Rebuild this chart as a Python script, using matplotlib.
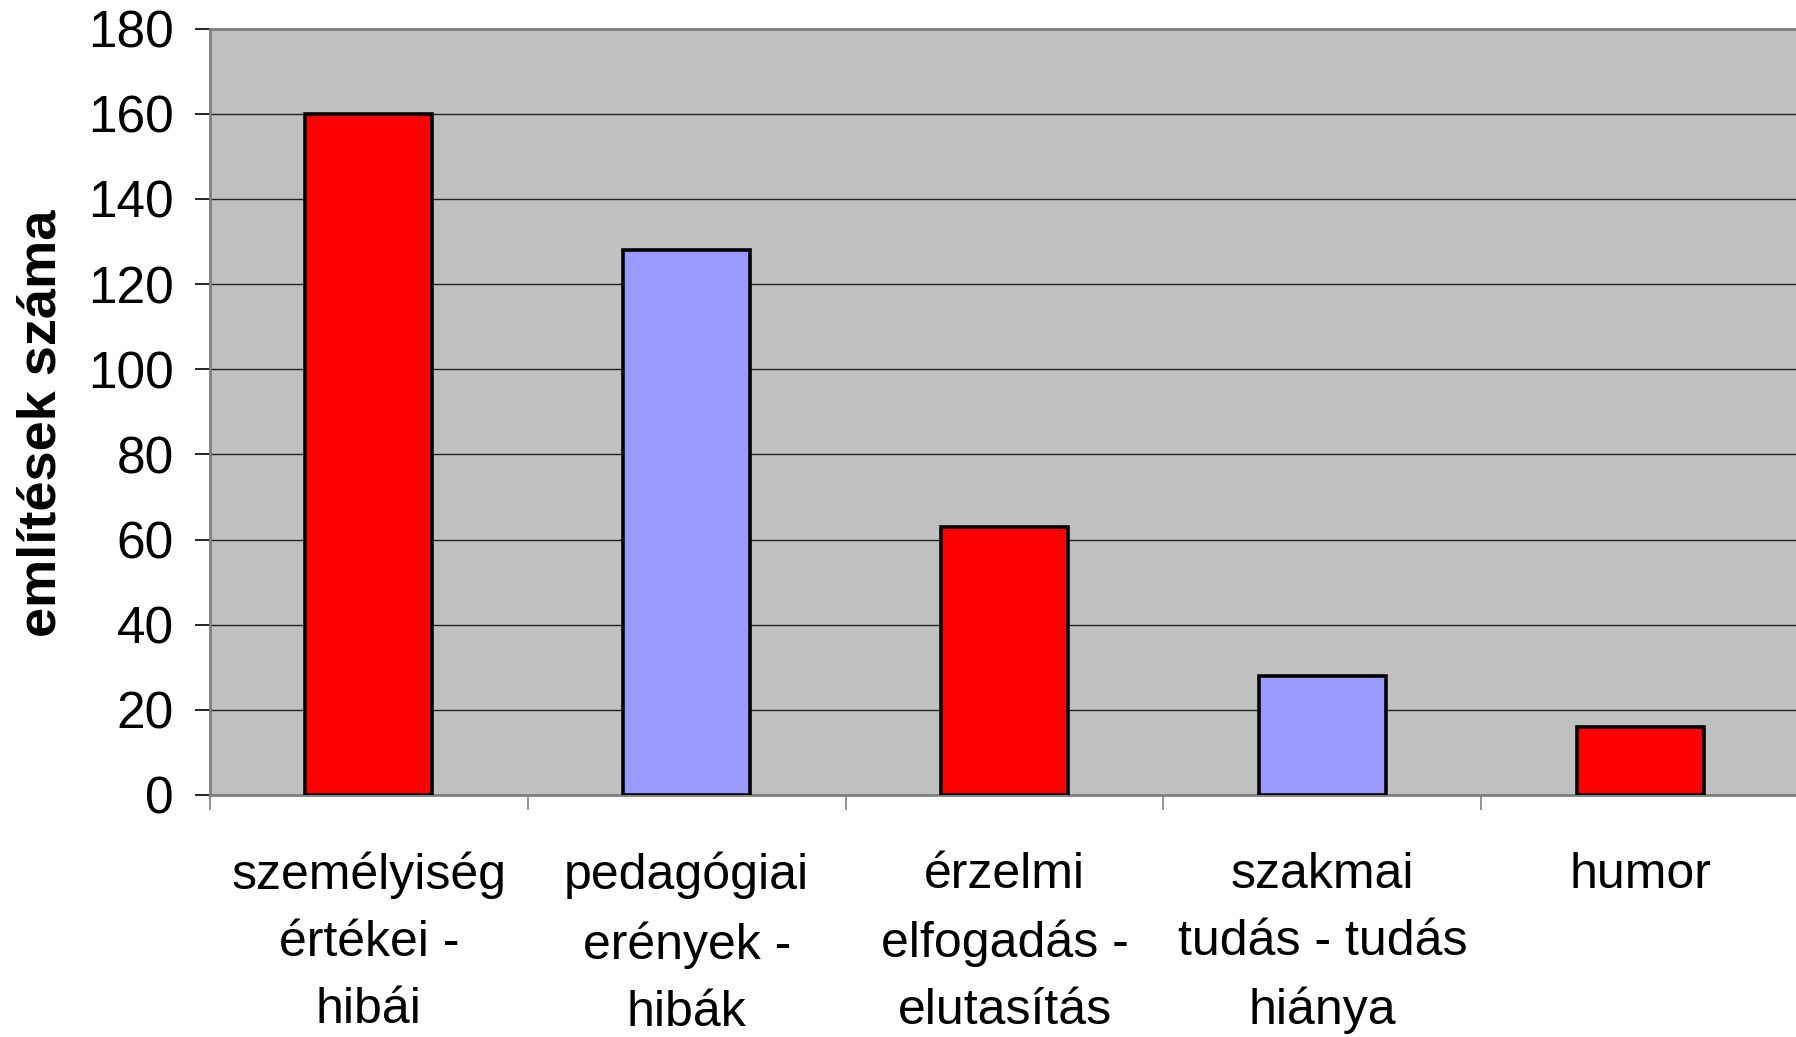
import matplotlib
matplotlib.use("Agg")
import matplotlib.pyplot as plt
import numpy as np

categories = [
    "személyiség\nértékei -\nhibái",
    "pedagógiai\nerények -\nhibák",
    "érzelmi\nelfogadás -\nelutasítás",
    "szakmai\ntudás - tudás\nhiánya",
    "humor",
]
values = [160, 128, 63, 28, 16]
bar_colors = ["#FF0000", "#9999FF", "#FF0000", "#9999FF", "#FF0000"]
yticks = [0, 20, 40, 60, 80, 100, 120, 140, 160, 180]

plt.rcParams['font.family'] = ['Liberation Sans', 'DejaVu Sans']

W, H = 1796, 1037
fig = plt.figure(figsize=(W / 100, H / 100), dpi=100)
left, right, bottom, top = 210, 1799, 795, 28.6
ax = fig.add_axes([left / W, 1 - bottom / H, (right - left) / W, (bottom - top) / H])
ax.set_facecolor("#C0C0C0")

xs = np.arange(len(categories))
ax.bar(xs, values, width=0.4, color=bar_colors, edgecolor="black", linewidth=2.6, zorder=3)

ax.set_xlim(-0.5, len(categories) - 0.5)
ax.set_ylim(0, 180)
ax.set_yticks(yticks)
ax.tick_params(axis='y', labelsize=37, length=11, width=1.2, color="black", pad=15)
ax.yaxis.grid(True, color="#222222", linewidth=1.0, zorder=1)
ax.set_axisbelow(True)

ax.set_xticks(xs)
ax.set_xticklabels(categories, fontsize=36)
ax.tick_params(axis='x', which='major', length=0, pad=41)
ax.set_xticks(np.arange(-0.5, len(categories), 1.0), minor=True)
ax.tick_params(axis='x', which='minor', length=11, width=1.2, color="#808080")
for lab in ax.get_xticklabels():
    lab.set_linespacing(1.58)

for side in ("left", "bottom", "top"):
    ax.spines[side].set_color("#808080")
    ax.spines[side].set_linewidth(2)
ax.spines["right"].set_visible(False)

ax.set_ylabel("említések száma", fontsize=39, fontweight="bold")
ax.yaxis.set_label_coords(-0.09, 0.485)

fig.savefig("out.png", dpi=100)
